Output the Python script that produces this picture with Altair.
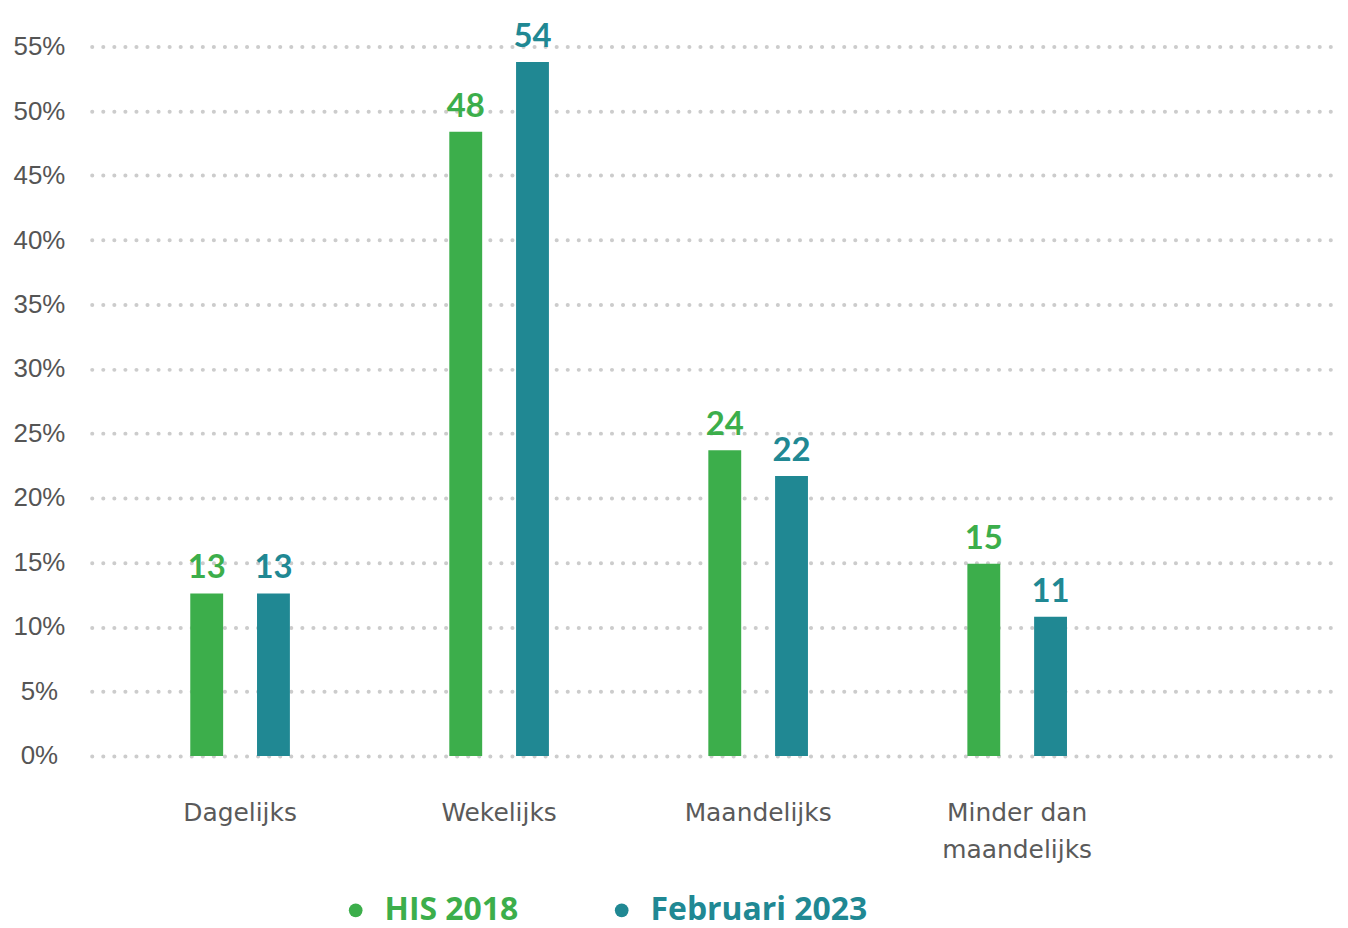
import altair as alt
import pandas as pd

categories = ["Dagelijks", "Wekelijks", "Maandelijks", "Minder dan maandelijks"]
series = ["HIS 2018", "Februari 2023"]
his_2018 = [12.6, 48.4, 23.7, 14.9]
feb_2023 = [12.6, 53.8, 21.7, 10.8]
colors = ["#3cae4b", "#208893"]
y_ticks = [0, 5, 10, 15, 20, 25, 30, 35, 40, 45, 50, 55]

rows = []
for i, c in enumerate(categories):
    rows.append({"cat": c, "series": series[0], "value": his_2018[i]})
    rows.append({"cat": c, "series": series[1], "value": feb_2023[i]})
df = pd.DataFrame(rows)

color_scale = alt.Scale(domain=series, range=colors)

base = alt.Chart(df).encode(
    x=alt.X(
        "cat:N",
        sort=categories,
        title=None,
        scale=alt.Scale(paddingInner=0, paddingOuter=0.4096, align=0.089),
        axis=alt.Axis(
            labelAngle=0,
            labelFontSize=25,
            labelFont="DejaVu Sans",
            labelColor="#5a5a5a",
            labelPadding=45,
            labelLineHeight=37,
            labelBaseline="top",
            domain=False,
            ticks=False,
            grid=False,
            labelExpr="datum.label == 'Minder dan maandelijks' ? ['Minder dan', 'maandelijks'] : datum.label",
        ),
    ),
    xOffset=alt.XOffset(
        "series:N",
        sort=series,
        scale=alt.Scale(range=[80, 180], paddingInner=0.5075, paddingOuter=0),
    ),
    y=alt.Y(
        "value:Q",
        title=None,
        scale=alt.Scale(domain=[0, 55], nice=False),
        axis=alt.Axis(
            values=y_ticks,
            labelExpr="datum.value + '%'",
            labelFontSize=26,
            labelFont="Liberation Sans",
            labelColor="#555555",
            labelAlign="center",
            labelPadding=53,
            domain=False,
            ticks=False,
            gridColor="#cccccc",
            gridDash=[0.1, 11],
            gridCap="round",
            gridWidth=4,
        ),
    ),
)

bars = base.mark_bar().encode(
    color=alt.Color(
        "series:N",
        sort=series,
        scale=color_scale,
        title=None,
        legend=alt.Legend(
            orient="none",
            legendX=249,
            legendY=851,
            direction="horizontal",
            columns=2,
            columnPadding=87,
            symbolType="circle",
            symbolSize=190,
            symbolStrokeWidth=0,
            labelFontSize=32,
            labelFont="Open Sans",
            labelFontWeight="bold",
            labelOffset=13,
            labelLimit=500,
            labelColor=alt.ExprRef("datum.label == 'HIS 2018' ? '#3cae4b' : '#208893'"),
        ),
    )
)

labels = base.mark_text(
    baseline="alphabetic", dy=-15, fontSize=33, fontWeight="bold", font="Lato"
).encode(
    text=alt.Text("value:Q", format=".0f"),
    color=alt.Color("series:N", sort=series, scale=color_scale, legend=None),
)

chart = (
    alt.layer(bars, labels)
    .properties(
        width=1253,
        height=712,
        autosize=alt.AutoSizeParams(type="none"),
        padding={"left": 84, "top": 37, "right": 0, "bottom": 171},
    )
    .configure_view(stroke=None)
)

chart.save("out.html", embed_options={"renderer": "svg", "actions": False})
